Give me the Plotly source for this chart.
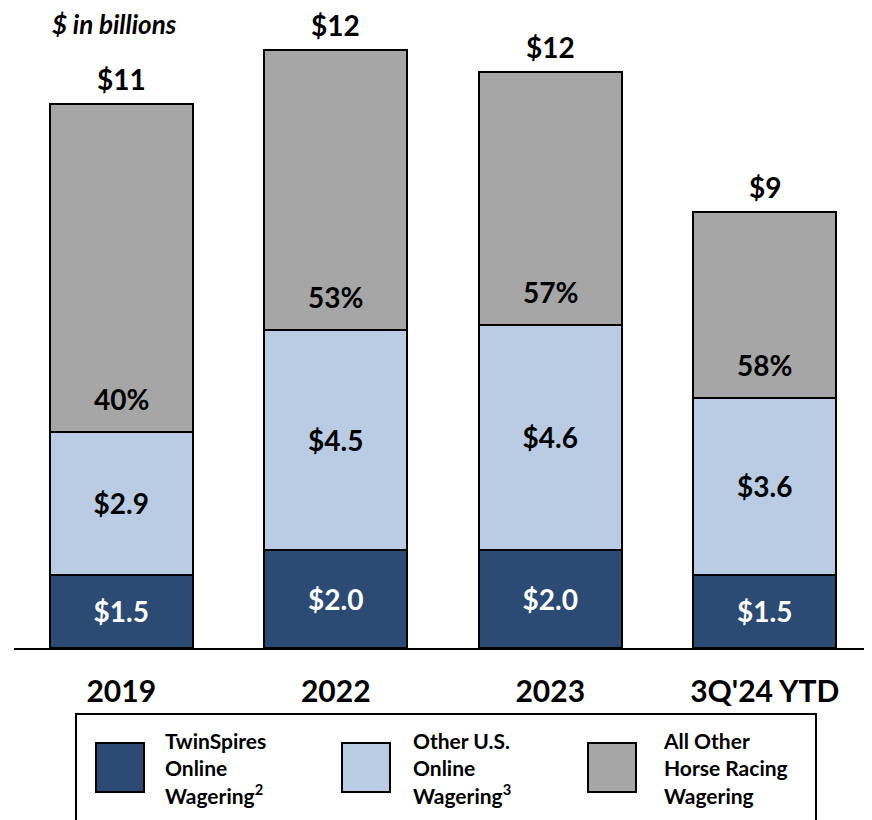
import plotly.graph_objects as go

# data ($ in billions)
periods = ["2019", "2022", "2023", "3Q'24 YTD"]
twinspires = [1.5, 2.0, 2.0, 1.5]
other_us_online = [2.9, 4.5, 4.6, 3.6]
all_other = [6.7, 5.7, 5.15, 3.8]
twinspires_labels = ["$1.5", "$2.0", "$2.0", "$1.5"]
other_us_labels = ["$2.9", "$4.5", "$4.6", "$3.6"]
online_share_labels = ["40%", "53%", "57%", "58%"]
total_labels = ["$11", "$12", "$12", "$9"]

legend_names = [
    "TwinSpires<br>Online<br>Wagering<sup>2</sup>",
    "Other U.S.<br>Online<br>Wagering<sup>3</sup>",
    "All Other<br>Horse Racing<br>Wagering",
]

DARK = "#2B4A74"
LIGHT = "#BACCE4"
GRAY = "#A6A6A6"
FONT = "Lato"

# page body adds an 8px margin, so the figure is 8px smaller and shifted
OFF = 8
W, H = 872 - OFF, 820 - OFF
M_L, M_R, M_T, M_B = 14 - OFF, 0, 0, 172
PLOT_H = H - M_T - M_B
PLOT_W = W - M_L - M_R


def px_x(x):
    return (x - OFF - M_L) / PLOT_W


def px_y(y):
    return (M_T + PLOT_H - (y - OFF)) / PLOT_H


fig = go.Figure()

bar_style = dict(width=0.667, marker_line=dict(color="black", width=2),
                 textposition="inside", insidetextanchor="middle",
                 constraintext="none", hoverinfo="skip")

fig.add_trace(go.Bar(x=periods, y=twinspires, marker_color=DARK,
                     text=twinspires_labels,
                     textfont=dict(family=FONT, size=28, color="white", weight="bold"),
                     **bar_style))
fig.add_trace(go.Bar(x=periods, y=other_us_online, marker_color=LIGHT,
                     text=other_us_labels,
                     textfont=dict(family=FONT, size=28, color="black", weight="bold"),
                     **bar_style))
fig.add_trace(go.Bar(x=periods, y=all_other, marker_color=GRAY, **bar_style))

# online share label sits just above the online segments, totals above bars
for i, (a, b, c, share, tot) in enumerate(zip(twinspires, other_us_online, all_other,
                                              online_share_labels, total_labels)):
    fig.add_annotation(x=i, y=a + b, text=share, showarrow=False,
                       yanchor="bottom", yshift=14,
                       font=dict(family=FONT, size=28, color="black", weight="bold"))
    fig.add_annotation(x=i, y=a + b + c, text=tot, showarrow=False,
                       yanchor="bottom", yshift=7, borderpad=0,
                       font=dict(family=FONT, size=28, color="black", weight="bold"))

fig.add_annotation(xref="paper", yref="paper", x=px_x(50), y=px_y(24),
                   xanchor="left", yanchor="middle", showarrow=False,
                   text="<i>$ in billions</i>",
                   font=dict(family=FONT, size=26, color="black", weight="bold"))

# hand-drawn legend box with large swatches
fig.add_shape(type="rect", xref="paper", yref="paper",
              x0=px_x(76), x1=px_x(816), y0=px_y(714), y1=px_y(840),
              line=dict(color="black", width=2), fillcolor="white")
swatch_left = [96, 342, 588]
text_left = [163, 411, 661]
for sx, tx, color, name in zip(swatch_left, text_left, [DARK, LIGHT, GRAY], legend_names):
    fig.add_shape(type="rect", xref="paper", yref="paper",
                  x0=px_x(sx), x1=px_x(sx + 48), y0=px_y(743), y1=px_y(792),
                  line=dict(color="black", width=2), fillcolor=color)
    fig.add_annotation(xref="paper", yref="paper", x=px_x(tx), y=px_y(768),
                       xanchor="left", yanchor="middle", align="left",
                       showarrow=False, text=name,
                       font=dict(family=FONT, size=21, color="black", weight="bold"))

fig.update_layout(
    width=W, height=H,
    margin=dict(l=M_L, r=M_R, t=M_T, b=M_B),
    barmode="stack",
    showlegend=False,
    plot_bgcolor="white",
    paper_bgcolor="white",
    font=dict(family=FONT, color="black"),
)
fig.update_xaxes(type="category", showline=True, linecolor="black", linewidth=2,
                 ticks="", ticklabelstandoff=16,
                 tickfont=dict(family=FONT, size=30, color="black", weight="bold"),
                 range=[-0.5, 3.5])
fig.update_yaxes(visible=False, range=[0, PLOT_H / 49.0])

fig.write_html("out.html")
